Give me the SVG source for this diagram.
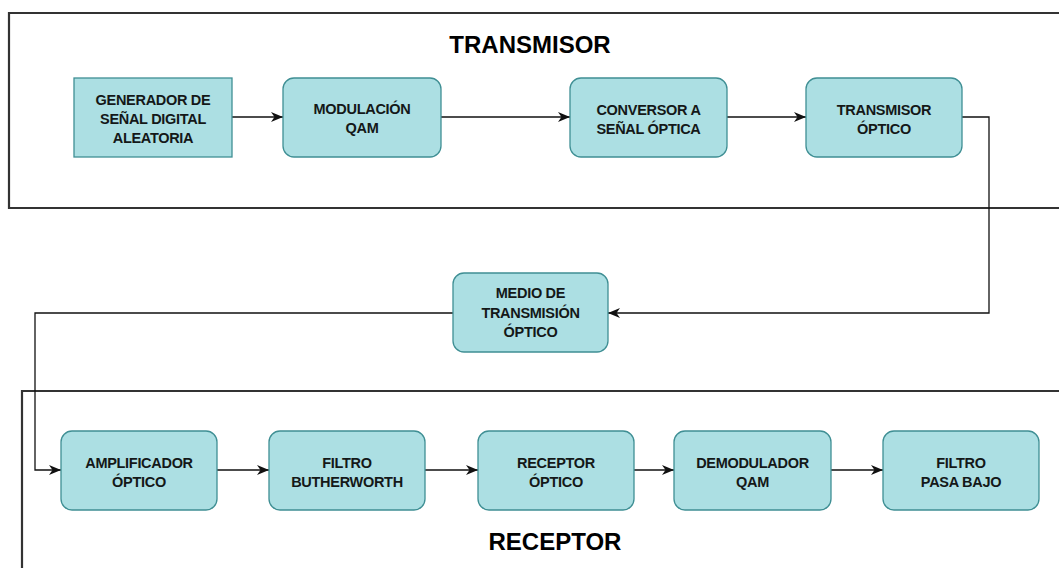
<svg xmlns="http://www.w3.org/2000/svg" width="1059" height="568" viewBox="0 0 1059 568">
<style>
.box{fill:#acdfe3;stroke:#3f8f94;stroke-width:1.3}
.cont{fill:none;stroke:#333;stroke-width:2.2}
.lbl{font-family:"Liberation Sans",Arial,sans-serif;font-weight:bold;font-size:14.5px;fill:#141818;text-anchor:middle;letter-spacing:-0.3px}
.title{font-family:"Liberation Sans",Arial,sans-serif;font-weight:bold;font-size:24px;fill:#000;text-anchor:middle}
.conn{fill:none;stroke:#111;stroke-width:1.3}
</style>
<defs>
<marker id="arr" markerWidth="12" markerHeight="10" refX="12" refY="5" orient="auto" markerUnits="userSpaceOnUse">
<path d="M0,0 L12,5 L0,10 L3.5,5 z" fill="#111"/>
</marker>
</defs>
<rect width="1059" height="568" fill="#fff"/>
<g id="transmisor-group">
<path class="cont" d="M1065,13 L9,13 L9,208 L1065,208"/>
<text class="title" x="530" y="53">TRANSMISOR</text>
</g>
<g id="receptor-group">
<path class="cont" d="M1065,391 L22,391 L22,575"/>
<text class="title" x="555" y="550">RECEPTOR</text>
</g>
<g id="connectors">
<path class="conn" d="M232,117 L283,117" marker-end="url(#arr)"/>
<path class="conn" d="M441,117 L570,117" marker-end="url(#arr)"/>
<path class="conn" d="M727,117 L806,117" marker-end="url(#arr)"/>
<path class="conn" d="M962,117 L989,117 L989,313 L608,313" marker-end="url(#arr)"/>
<path class="conn" d="M453,313 L35,313 L35,470 L61,470" marker-end="url(#arr)"/>
<path class="conn" d="M217,470 L269,470" marker-end="url(#arr)"/>
<path class="conn" d="M425,470 L478,470" marker-end="url(#arr)"/>
<path class="conn" d="M634,470 L674,470" marker-end="url(#arr)"/>
<path class="conn" d="M831,470 L883,470" marker-end="url(#arr)"/>
</g>
<g id="generador">
<rect class="box" x="74" y="78" width="158" height="79"/>
<text class="lbl" x="153" y="105">GENERADOR DE</text>
<text class="lbl" x="153" y="124">SEÑAL DIGITAL</text>
<text class="lbl" x="153" y="143">ALEATORIA</text>
</g>
<g id="modulacion">
<rect class="box" x="283" y="78" width="158" height="79" rx="11"/>
<text class="lbl" x="362" y="114">MODULACIÓN</text>
<text class="lbl" x="362" y="133">QAM</text>
</g>
<g id="conversor">
<rect class="box" x="570" y="78" width="157" height="79" rx="11"/>
<text class="lbl" x="648.5" y="115">CONVERSOR A</text>
<text class="lbl" x="648.5" y="134">SEÑAL ÓPTICA</text>
</g>
<g id="transmisor-optico">
<rect class="box" x="806" y="78" width="156" height="79" rx="11"/>
<text class="lbl" x="884" y="115">TRANSMISOR</text>
<text class="lbl" x="884" y="134">ÓPTICO</text>
</g>
<g id="medio">
<rect class="box" x="453" y="273" width="155" height="79" rx="11"/>
<text class="lbl" x="530.5" y="298">MEDIO DE</text>
<text class="lbl" x="530.5" y="318">TRANSMISIÓN</text>
<text class="lbl" x="530.5" y="337">ÓPTICO</text>
</g>
<g id="amplificador">
<rect class="box" x="61" y="431" width="156" height="79" rx="11"/>
<text class="lbl" x="139" y="468">AMPLIFICADOR</text>
<text class="lbl" x="139" y="487">ÓPTICO</text>
</g>
<g id="filtro-butherworth">
<rect class="box" x="269" y="431" width="156" height="79" rx="11"/>
<text class="lbl" x="347" y="468">FILTRO</text>
<text class="lbl" x="347" y="487">BUTHERWORTH</text>
</g>
<g id="receptor-optico">
<rect class="box" x="478" y="431" width="156" height="79" rx="11"/>
<text class="lbl" x="556" y="468">RECEPTOR</text>
<text class="lbl" x="556" y="487">ÓPTICO</text>
</g>
<g id="demodulador">
<rect class="box" x="674" y="431" width="157" height="79" rx="11"/>
<text class="lbl" x="752.5" y="468">DEMODULADOR</text>
<text class="lbl" x="752.5" y="487">QAM</text>
</g>
<g id="filtro-pasa-bajo">
<rect class="box" x="883" y="431" width="156" height="79" rx="11"/>
<text class="lbl" x="961" y="468">FILTRO</text>
<text class="lbl" x="961" y="487">PASA BAJO</text>
</g>
</svg>
